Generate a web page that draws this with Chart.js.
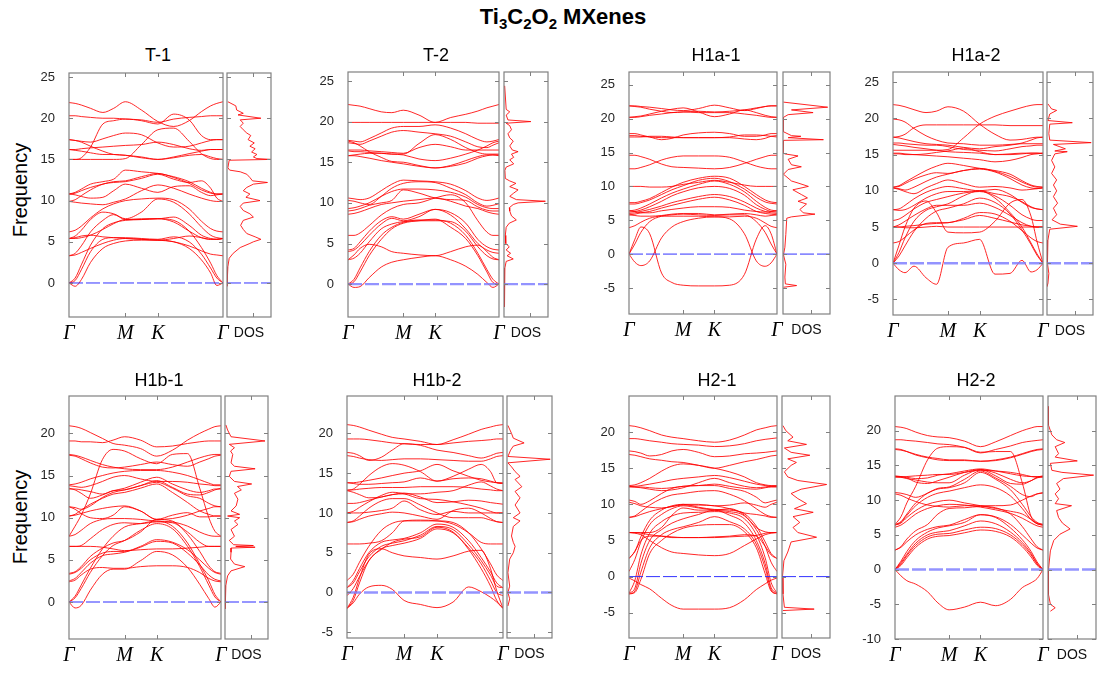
<!DOCTYPE html>
<html>
<head>
<meta charset="utf-8">
<title>Ti3C2O2 MXenes phonon dispersion</title>
<script src="https://cdn.jsdelivr.net/npm/chart.js@4.4.1/dist/chart.umd.min.js"></script>
<style>
  html, body { margin: 0; padding: 0; background: #fff; }
  body { width: 1102px; height: 673px; position: relative; overflow: hidden;
         font-family: 'Liberation Sans', Arial, sans-serif; color: #000; }
  canvas { position: absolute; }
  .main { position: absolute; left: 563px; top: 17px; transform: translate(-50%, -50%);
          font-weight: bold; font-size: 22px; white-space: nowrap; }
  .main sub { font-size: 15px; vertical-align: -5px; line-height: 0; }
  .ptitle { position: absolute; transform: translate(-50%, -50%); font-size: 18px; white-space: nowrap; }
  .ylab { position: absolute; transform: translate(-50%, -50%) rotate(-90deg); font-size: 20px; white-space: nowrap; }
</style>
</head>
<body>
<div class="main">Ti<sub>3</sub>C<sub>2</sub>O<sub>2</sub> MXenes</div>
<div class="ylab" style="left:20px; top:190px;">Frequency</div>
<div class="ylab" style="left:20px; top:517px;">Frequency</div>
<script>
// ---- k-path: Γ → M → K → Γ (fractional path length) ----
const KPATH = [0, 0.04, 0.08, 0.14, 0.22, 0.29, 0.366, 0.47, 0.577, 0.68, 0.78, 0.86, 0.92, 0.96, 1];
const KTICK_POS = [0, 0.366, 0.577, 1];
const KTICK_TXT = ['Γ', 'M', 'K', 'Γ'];
const DOS_MARK = 0.6;
const DOS_LABEL_POS = 0.5;

// ---- phonon branches, one row per branch, sampled on KPATH ----
const bandsT1 = [
  [21.9, 21.8, 21.6, 21.2, 20.7, 21.2, 22.0, 21.0, 19.6, 19.0, 19.7, 20.8, 21.5, 21.8, 22.0],
  [20.3, 20.3, 20.2, 20.1, 20.0, 20.0, 19.9, 19.8, 19.5, 19.9, 20.1, 20.2, 20.3, 20.3, 20.3],
  [15.0, 15.0, 15.2, 16.5, 19.3, 19.7, 19.9, 19.7, 19.3, 20.5, 19.8, 17.9, 17.4, 17.4, 17.4],
  [17.4, 17.3, 17.2, 17.1, 17.5, 17.9, 18.2, 18.0, 17.0, 16.5, 16.6, 17.0, 17.3, 17.4, 17.4],
  [16.2, 16.2, 16.3, 16.4, 16.5, 16.6, 16.7, 16.8, 17.1, 16.8, 16.3, 16.1, 16.2, 16.2, 16.2],
  [16.2, 16.1, 16.0, 15.8, 15.6, 15.6, 15.5, 15.3, 15.0, 15.3, 15.7, 16.0, 16.2, 16.2, 16.2],
  [17.4, 17.3, 17.1, 16.6, 16.0, 15.6, 15.5, 15.2, 15.0, 15.2, 15.5, 15.6, 15.3, 15.1, 15.0],
  [15.0, 15.0, 15.0, 15.0, 15.0, 15.0, 15.1, 16.8, 18.6, 18.8, 17.2, 15.7, 15.1, 15.0, 15.0],
  [10.8, 11.0, 11.4, 12.0, 12.3, 12.6, 13.7, 13.5, 13.3, 12.9, 12.3, 11.5, 11.0, 10.8, 10.8],
  [10.8, 10.9, 11.2, 11.6, 12.0, 12.3, 12.4, 12.9, 13.3, 12.8, 12.1, 11.3, 10.9, 10.8, 10.8],
  [9.9, 10.1, 10.6, 11.3, 12.0, 12.2, 12.3, 12.7, 13.2, 12.6, 12.2, 12.4, 11.5, 10.3, 9.9],
  [10.8, 10.7, 10.5, 10.3, 10.4, 11.2, 12.0, 11.5, 11.0, 11.7, 11.8, 11.0, 10.6, 10.7, 10.8],
  [9.9, 9.8, 9.7, 9.6, 9.5, 9.8, 10.2, 11.2, 11.9, 11.5, 10.8, 10.3, 10.0, 9.9, 9.9],
  [6.2, 6.4, 6.9, 7.9, 9.0, 9.6, 10.0, 10.2, 10.3, 10.1, 9.0, 7.5, 6.6, 6.3, 6.2],
  [5.4, 5.7, 6.4, 7.7, 8.6, 8.4, 7.8, 8.6, 10.2, 9.8, 8.4, 6.8, 5.8, 5.5, 5.4],
  [3.3, 3.6, 4.5, 6.2, 7.6, 8.3, 7.7, 7.8, 7.8, 8.0, 7.0, 5.8, 5.4, 5.3, 5.4],
  [5.4, 5.4, 5.5, 5.8, 6.5, 7.2, 7.7, 7.7, 7.8, 7.4, 6.3, 5.5, 5.3, 5.3, 5.4],
  [5.4, 5.5, 5.7, 5.8, 5.6, 5.5, 5.4, 5.3, 5.2, 5.4, 5.7, 5.5, 5.3, 5.3, 5.4],
  [3.3, 3.4, 3.7, 4.2, 4.8, 5.2, 5.4, 5.3, 5.2, 5.0, 4.5, 3.9, 3.5, 3.4, 3.3],
  [0, -0.4, 0.4, 2.5, 4.2, 4.8, 5.1, 5.2, 5.2, 5.0, 4.2, 2.8, 1.2, -0.3, 0],
  [0, 0.3, 1.6, 3.8, 5.3, 5.5, 5.5, 5.4, 5.3, 5.6, 5.0, 3.5, 1.8, 0.6, 0],
  [0, 0.6, 2.2, 4.6, 6.6, 7.3, 7.6, 7.7, 7.8, 7.6, 6.3, 4.3, 2.4, 0.9, 0]
];

const bandsT2 = [
  [22.1, 22.0, 21.9, 21.6, 21.2, 21.1, 21.4, 20.8, 19.9, 20.5, 20.9, 21.3, 21.7, 21.9, 22.1],
  [19.9, 19.9, 19.9, 19.9, 19.9, 19.9, 19.9, 19.9, 19.9, 19.9, 19.9, 19.8, 19.8, 19.8, 19.8],
  [17.7, 17.6, 17.5, 17.9, 18.6, 19.2, 19.4, 19.4, 19.6, 19.2, 18.5, 17.8, 17.5, 17.6, 17.8],
  [17.4, 17.3, 17.2, 17.6, 18.2, 18.7, 18.9, 18.7, 18.5, 18.2, 17.5, 16.9, 16.8, 17.1, 17.4],
  [16.5, 16.5, 16.5, 16.4, 16.3, 16.2, 16.1, 16.8, 17.2, 16.9, 16.5, 16.5, 16.5, 16.5, 16.5],
  [16.4, 16.3, 16.3, 16.2, 16.1, 16.0, 16.0, 17.3, 18.4, 17.8, 16.8, 16.2, 16.0, 16.0, 16.0],
  [15.8, 15.9, 16.0, 16.1, 16.1, 16.0, 15.9, 15.4, 15.2, 15.5, 16.0, 16.5, 17.0, 17.4, 17.6],
  [17.6, 17.4, 17.0, 16.3, 15.6, 15.1, 15.0, 14.6, 14.3, 14.6, 15.2, 15.7, 15.9, 15.9, 15.8],
  [15.8, 15.8, 15.7, 15.5, 15.2, 15.0, 14.8, 14.5, 14.3, 14.5, 14.9, 15.5, 15.8, 15.9, 15.9],
  [10.6, 10.5, 10.4, 10.6, 11.5, 12.3, 12.8, 12.7, 12.6, 12.3, 11.5, 10.6, 10.3, 10.4, 10.6],
  [10.3, 10.2, 10.0, 9.8, 10.8, 11.8, 12.4, 12.6, 12.5, 11.8, 11.0, 10.0, 9.6, 9.7, 9.9],
  [9.3, 9.4, 9.6, 10.0, 10.8, 11.4, 11.7, 11.7, 11.6, 11.3, 10.7, 9.8, 9.4, 9.3, 9.3],
  [9.0, 9.1, 9.3, 9.7, 10.0, 10.3, 11.6, 11.2, 10.6, 10.4, 10.3, 9.5, 9.1, 9.0, 9.0],
  [8.6, 8.7, 8.9, 9.3, 9.8, 10.0, 10.2, 10.4, 10.6, 10.2, 9.6, 9.3, 8.9, 8.7, 8.6],
  [6.0, 6.0, 6.3, 7.2, 8.5, 9.3, 9.8, 10.0, 10.6, 11.0, 10.0, 7.8, 6.4, 6.0, 6.0],
  [4.2, 4.4, 5.2, 6.5, 7.8, 8.3, 8.0, 8.6, 9.2, 8.8, 7.5, 5.5, 4.6, 4.3, 4.2],
  [4.0, 4.2, 4.8, 6.0, 7.4, 8.1, 7.8, 8.3, 9.2, 8.5, 6.8, 5.0, 4.2, 3.9, 3.8],
  [3.0, 3.2, 3.8, 5.2, 6.8, 7.4, 7.7, 7.8, 7.8, 7.7, 6.5, 4.6, 3.5, 3.1, 3.0],
  [3.0, 3.6, 4.4, 4.9, 4.6, 4.0, 3.8, 3.6, 3.5, 4.0, 4.6, 4.8, 4.0, 3.3, 3.0],
  [0, 0.6, 2.0, 4.0, 6.0, 7.0, 7.6, 7.9, 7.9, 7.5, 6.0, 3.8, 1.8, 0.6, 0],
  [0, 0.3, 1.5, 3.5, 5.5, 6.8, 7.5, 7.8, 8.0, 7.0, 5.6, 3.5, 1.5, 0.2, 0],
  [0, -0.4, -0.3, 0.8, 2.1, 2.7, 3.0, 3.3, 3.5, 3.0, 2.2, 1.2, 0.2, -0.4, 0]
];

const bandsH1a1 = [
  [21.9, 21.9, 21.8, 21.7, 21.5, 21.3, 21.2, 21.5, 22.0, 21.6, 21.2, 21.5, 21.8, 21.9, 21.9],
  [21.9, 21.8, 21.7, 21.4, 21.1, 20.9, 21.0, 21.1, 21.0, 21.1, 21.3, 21.6, 21.8, 21.9, 21.9],
  [20.2, 20.3, 20.4, 20.7, 21.1, 21.4, 21.6, 21.0, 20.3, 20.7, 21.3, 20.9, 20.5, 20.3, 20.2],
  [20.2, 20.2, 20.3, 20.5, 20.7, 20.9, 21.0, 20.9, 20.9, 20.9, 20.7, 20.5, 20.3, 20.2, 20.2],
  [17.8, 17.8, 17.6, 17.3, 16.9, 17.1, 17.6, 17.9, 18.0, 17.8, 17.4, 17.4, 17.6, 17.8, 17.8],
  [17.5, 17.5, 17.4, 17.3, 17.2, 17.2, 17.2, 17.2, 17.2, 17.2, 17.0, 16.9, 17.1, 17.4, 17.5],
  [17.3, 17.3, 17.3, 17.4, 17.4, 17.3, 17.2, 17.2, 17.2, 17.3, 17.6, 17.6, 17.5, 17.4, 17.3],
  [14.6, 14.6, 14.4, 14.0, 13.3, 12.9, 12.8, 12.7, 12.6, 12.8, 13.4, 14.0, 14.4, 14.6, 14.6],
  [12.6, 12.6, 12.8, 13.2, 13.9, 14.3, 14.5, 14.5, 14.5, 14.3, 13.6, 13.0, 12.7, 12.6, 12.6],
  [10.0, 10.0, 10.0, 9.9, 9.9, 10.0, 10.3, 10.6, 10.9, 10.6, 10.2, 10.0, 10.0, 10.0, 10.0],
  [7.6, 7.6, 7.8, 8.2, 9.1, 9.9, 10.6, 11.2, 11.5, 11.2, 10.0, 8.8, 8.0, 7.7, 7.6],
  [7.4, 7.4, 7.6, 8.0, 8.8, 9.5, 10.1, 10.9, 11.2, 10.7, 9.6, 8.4, 7.7, 7.5, 7.4],
  [6.4, 6.5, 6.8, 7.4, 8.3, 9.0, 9.6, 10.3, 10.8, 10.3, 9.2, 7.8, 6.9, 6.5, 6.4],
  [6.2, 6.3, 6.5, 7.0, 7.8, 8.6, 9.2, 9.8, 10.0, 9.7, 8.7, 7.3, 6.6, 6.3, 6.2],
  [6.0, 6.1, 6.3, 6.6, 7.1, 7.6, 8.0, 8.5, 8.8, 8.5, 7.7, 6.8, 6.3, 6.1, 6.0],
  [5.8, 5.9, 6.1, 6.3, 6.8, 7.2, 7.6, 8.1, 8.4, 8.0, 7.2, 6.3, 6.0, 5.9, 5.8],
  [6.4, 6.3, 6.1, 6.1, 6.4, 6.6, 6.8, 7.0, 7.0, 6.9, 6.5, 6.3, 6.2, 6.3, 6.4],
  [5.8, 5.7, 5.6, 5.6, 5.7, 5.9, 6.0, 6.0, 5.8, 5.9, 6.0, 5.8, 5.6, 5.7, 5.8],
  [3.9, 4.2, 4.7, 5.3, 5.6, 5.6, 5.6, 5.6, 5.5, 5.5, 5.6, 5.3, 4.6, 4.1, 3.9],
  [0, 1.5, 3.2, 4.8, 5.6, 5.8, 5.9, 5.8, 5.7, 5.8, 5.8, 4.8, 3.2, 1.5, 0],
  [0, 2.2, 4.0, 3.0, -2.8, -4.2, -4.6, -4.7, -4.7, -4.6, -3.0, 2.2, 4.2, 3.0, 0],
  [0, -1.2, -1.7, -1.0, 2.4, 4.0, 4.8, 5.3, 5.5, 5.2, 3.0, -1.0, -1.8, -1.3, 0]
];

const bandsH1a2 = [
  [21.9, 21.8, 21.6, 21.2, 20.8, 21.0, 21.6, 21.0, 19.2, 17.8, 17.0, 17.1, 17.3, 17.4, 17.4],
  [15.6, 15.6, 15.6, 15.6, 15.6, 15.6, 15.7, 17.3, 19.2, 20.3, 21.0, 21.5, 21.8, 21.9, 21.9],
  [19.9, 19.8, 19.5, 18.6, 17.6, 17.0, 16.6, 16.5, 16.3, 16.3, 16.4, 16.5, 16.5, 16.5, 16.5],
  [17.4, 17.5, 17.8, 18.7, 19.1, 19.1, 19.1, 19.1, 19.1, 19.1, 19.0, 19.0, 19.0, 19.0, 19.0],
  [17.4, 17.3, 17.1, 16.8, 16.5, 16.4, 16.3, 16.0, 15.8, 16.1, 16.3, 16.6, 17.0, 17.3, 17.4],
  [16.6, 16.6, 16.5, 16.4, 16.3, 16.3, 16.1, 15.7, 15.6, 15.5, 15.8, 16.1, 16.2, 16.3, 16.3],
  [16.4, 16.3, 16.2, 16.0, 15.8, 15.6, 15.4, 15.3, 15.2, 15.0, 15.0, 15.1, 15.2, 15.2, 15.2],
  [15.2, 15.2, 15.1, 15.0, 14.9, 14.8, 14.7, 14.5, 14.3, 14.0, 14.2, 14.6, 15.0, 15.1, 15.2],
  [15.1, 15.1, 15.0, 15.0, 15.1, 15.3, 15.5, 15.9, 15.4, 15.0, 15.1, 15.2, 15.2, 15.2, 15.1],
  [10.5, 10.7, 11.2, 11.9, 12.8, 13.4, 13.8, 13.5, 13.1, 12.8, 12.3, 11.4, 10.8, 10.6, 10.5],
  [10.5, 10.6, 11.0, 11.6, 12.2, 12.5, 12.4, 12.8, 13.1, 12.7, 12.0, 11.2, 10.7, 10.5, 10.5],
  [10.4, 10.3, 10.1, 10.5, 11.3, 11.9, 12.3, 12.8, 13.0, 12.6, 11.7, 10.8, 10.4, 10.3, 10.4],
  [10.4, 10.2, 9.9, 9.6, 10.4, 11.0, 11.5, 11.0, 10.5, 10.6, 10.4, 10.1, 10.2, 10.3, 10.4],
  [7.4, 7.5, 8.0, 8.9, 9.8, 10.3, 10.6, 10.3, 10.0, 10.2, 9.5, 8.4, 7.7, 7.5, 7.4],
  [7.4, 7.3, 7.4, 8.0, 9.0, 9.6, 9.9, 9.9, 10.0, 9.6, 9.2, 8.5, 7.8, 7.5, 7.4],
  [5.9, 6.1, 6.6, 7.5, 8.4, 8.8, 9.2, 9.7, 9.9, 9.3, 8.0, 6.7, 6.1, 5.9, 5.9],
  [5.0, 5.3, 5.8, 6.6, 7.5, 8.0, 8.0, 8.0, 8.3, 7.7, 6.6, 5.6, 5.1, 5.0, 5.0],
  [5.0, 5.0, 5.1, 5.2, 5.4, 5.5, 5.6, 6.0, 6.6, 6.2, 5.7, 5.3, 5.1, 5.0, 5.0],
  [5.0, 5.0, 4.9, 4.9, 5.0, 5.1, 5.0, 5.0, 5.0, 5.0, 5.0, 5.0, 5.0, 5.0, 5.0],
  [2.8, 3.0, 3.6, 4.6, 5.5, 5.6, 5.6, 6.2, 7.0, 6.8, 5.8, 4.5, 3.5, 3.0, 2.8],
  [0, 2.5, 5.0, 7.6, 8.6, 7.0, 4.3, 4.2, 4.3, 5.8, 8.3, 8.8, 6.5, 3.0, 0],
  [0, 1.5, 3.5, 5.8, 7.3, 7.8, 8.2, 9.3, 10.0, 9.0, 7.0, 5.0, 2.8, 1.3, 0],
  [0, -0.9, -1.3, -0.4, -2.0, -2.9, 2.2, 2.8, 3.3, -1.5, -1.4, 0.4, -1.2, -0.9, 0],
  [0, 1.0, 2.4, 4.4, 6.2, 7.2, 7.6, 8.2, 9.0, 8.4, 6.8, 4.6, 2.6, 1.1, 0]
];

const bandsH1b1 = [
  [20.9, 20.8, 20.6, 20.1, 19.4, 18.8, 18.6, 18.2, 17.3, 18.0, 19.2, 20.0, 20.5, 20.8, 20.9],
  [19.1, 19.1, 19.0, 19.0, 18.9, 19.2, 19.6, 19.2, 18.4, 18.5, 18.8, 19.0, 19.1, 19.1, 19.1],
  [7.8, 9.0, 10.3, 12.8, 16.9, 18.1, 17.9, 17.0, 16.4, 17.5, 17.6, 13.5, 10.0, 8.4, 7.8],
  [17.5, 17.4, 17.2, 16.8, 16.3, 16.0, 15.8, 15.7, 15.7, 16.0, 16.6, 17.1, 17.4, 17.5, 17.5],
  [17.4, 17.3, 17.0, 16.5, 16.0, 15.9, 16.0, 16.3, 16.6, 16.3, 16.1, 16.6, 17.0, 17.3, 17.4],
  [13.9, 14.0, 14.2, 14.6, 15.0, 15.3, 15.5, 15.6, 15.6, 15.4, 15.0, 14.5, 14.1, 13.9, 13.9],
  [13.8, 13.7, 13.6, 13.8, 14.3, 14.8, 15.0, 14.6, 14.3, 14.3, 14.2, 14.0, 13.9, 13.8, 13.8],
  [13.4, 13.4, 13.3, 13.1, 12.8, 13.2, 13.5, 14.2, 14.8, 14.0, 13.3, 13.0, 13.2, 13.4, 13.4],
  [13.5, 13.3, 12.9, 12.3, 12.7, 13.2, 13.3, 13.8, 14.4, 13.6, 12.8, 12.7, 13.0, 13.3, 13.5],
  [11.3, 11.2, 11.0, 11.4, 12.4, 13.0, 13.3, 13.8, 14.2, 13.5, 12.6, 12.3, 11.7, 11.4, 11.3],
  [10.2, 10.4, 10.9, 11.6, 12.3, 12.8, 13.0, 13.5, 14.0, 13.0, 11.8, 10.8, 10.4, 10.2, 10.2],
  [10.2, 10.3, 10.5, 10.8, 11.1, 11.3, 11.4, 10.8, 9.8, 9.9, 10.3, 10.8, 11.1, 11.3, 11.3],
  [11.3, 11.0, 10.5, 10.0, 9.9, 10.3, 11.3, 10.8, 9.8, 10.3, 10.6, 10.1, 10.1, 10.2, 10.2],
  [7.8, 8.0, 8.5, 9.3, 9.8, 9.9, 9.9, 9.8, 9.6, 9.5, 9.0, 8.3, 7.9, 7.8, 7.8],
  [6.6, 6.6, 6.7, 7.5, 8.6, 9.2, 9.4, 9.3, 9.5, 9.4, 8.3, 7.1, 6.6, 6.6, 6.6],
  [6.6, 6.6, 6.6, 6.6, 6.5, 6.3, 6.1, 6.2, 6.3, 6.3, 6.4, 6.5, 6.6, 6.6, 6.6],
  [3.4, 3.6, 4.2, 5.4, 6.4, 7.0, 7.3, 8.3, 9.8, 9.6, 8.0, 6.0, 4.3, 3.6, 3.4],
  [3.3, 3.5, 4.0, 5.0, 5.8, 6.0, 6.0, 6.6, 7.4, 7.1, 6.2, 5.0, 4.0, 3.5, 3.3],
  [2.5, 2.8, 3.5, 4.6, 5.5, 5.7, 5.9, 6.5, 7.2, 7.0, 5.8, 4.4, 3.2, 2.7, 2.5],
  [2.4, 2.6, 3.2, 3.9, 4.1, 4.0, 4.0, 4.2, 4.3, 4.3, 4.1, 3.5, 2.8, 2.5, 2.4],
  [0, -0.7, -0.4, 1.4, 3.3, 3.9, 3.9, 4.9, 6.0, 5.6, 4.1, 2.1, 0.4, -0.6, 0],
  [0, 0.7, 2.0, 4.0, 6.3, 7.8, 8.9, 9.3, 9.6, 9.0, 7.0, 4.5, 2.5, 0.9, 0],
  [0, 0.5, 1.6, 3.5, 5.5, 6.7, 7.3, 8.5, 9.3, 8.7, 6.6, 4.2, 2.0, 0.6, 0]
];

const bandsH1b2 = [
  [21.1, 21.0, 20.8, 20.4, 19.9, 19.5, 19.3, 19.0, 18.6, 19.2, 19.9, 20.5, 20.8, 21.0, 21.1],
  [19.3, 19.3, 19.3, 19.2, 19.0, 18.8, 18.7, 18.6, 18.6, 18.8, 19.0, 19.1, 19.2, 19.3, 19.3],
  [17.6, 17.5, 17.2, 16.6, 17.0, 17.9, 18.7, 18.5, 17.9, 17.6, 17.2, 16.9, 17.2, 17.5, 17.6],
  [17.2, 17.1, 16.9, 16.7, 16.6, 16.7, 16.8, 16.8, 16.7, 16.6, 16.5, 16.5, 16.8, 17.1, 17.2],
  [12.8, 13.0, 13.6, 14.7, 15.8, 16.2, 16.0, 15.2, 14.0, 14.6, 15.5, 16.1, 15.2, 13.8, 13.7],
  [13.8, 13.8, 13.9, 14.1, 14.4, 14.7, 15.0, 15.3, 16.1, 15.3, 14.6, 14.1, 13.9, 13.8, 13.8],
  [13.8, 13.7, 13.6, 13.6, 13.7, 13.8, 13.9, 14.4, 14.0, 14.3, 14.4, 14.3, 14.0, 13.8, 13.7],
  [12.9, 12.9, 13.0, 13.1, 13.2, 13.2, 13.2, 13.3, 13.3, 13.3, 13.2, 13.0, 12.9, 12.8, 12.8],
  [12.8, 12.6, 12.3, 11.9, 12.0, 12.3, 12.4, 12.4, 12.6, 12.8, 13.5, 13.9, 13.4, 13.0, 12.8],
  [11.2, 11.2, 11.3, 11.6, 12.0, 12.3, 12.5, 12.0, 11.3, 11.4, 11.6, 11.5, 11.3, 11.2, 11.1],
  [10.0, 10.2, 10.7, 11.4, 12.2, 12.6, 12.4, 11.8, 11.7, 11.4, 11.0, 10.6, 10.2, 10.0, 10.0],
  [10.0, 10.0, 10.0, 10.1, 10.3, 10.6, 11.5, 10.4, 9.8, 10.2, 10.0, 10.0, 10.0, 10.0, 10.0],
  [8.8, 9.0, 9.6, 10.6, 11.5, 11.8, 11.8, 11.0, 10.0, 9.4, 9.4, 9.4, 9.1, 8.9, 8.8],
  [8.8, 8.9, 9.2, 9.6, 9.9, 10.1, 10.0, 9.6, 9.2, 10.3, 10.6, 10.0, 9.3, 8.9, 8.8],
  [6.1, 6.1, 6.1, 6.2, 6.5, 7.5, 9.0, 9.1, 9.0, 8.6, 7.5, 6.3, 6.1, 6.1, 6.1],
  [1.5, 2.3, 3.8, 5.8, 7.8, 8.7, 9.0, 9.0, 9.0, 8.8, 7.5, 5.5, 3.6, 2.2, 1.5],
  [0.6, 1.5, 3.0, 5.0, 6.3, 6.6, 6.8, 7.5, 8.6, 8.2, 6.5, 4.4, 2.6, 1.2, 0.6],
  [0.6, 1.2, 2.6, 4.5, 5.8, 6.2, 6.5, 7.2, 8.3, 7.9, 6.0, 4.0, 2.2, 0.8, 0.6],
  [-0.4, 0.5, 2.0, 4.0, 5.5, 5.9, 6.2, 6.8, 8.0, 7.5, 5.6, 3.6, 1.5, 0.0, -0.4],
  [-2.0, -0.6, 1.8, 4.8, 5.5, 5.0, 4.6, 4.4, 4.2, 4.6, 5.2, 5.3, 3.0, 0.2, -2.0],
  [-2.0, -1.0, 1.2, 4.0, 5.4, 6.3, 6.7, 7.0, 8.2, 7.6, 5.4, 3.0, 0.8, -1.0, -2.0],
  [-2.0, -1.3, -0.2, 0.7, 0.9, 0.4, -1.0, -1.5, -1.9, -1.2, 0.7, 0.1, -0.6, -1.2, -2.0]
];

const bandsH21 = [
  [20.9, 20.8, 20.6, 20.2, 19.6, 19.3, 19.1, 18.8, 18.6, 18.9, 19.6, 20.3, 20.6, 20.8, 20.9],
  [19.1, 19.1, 19.0, 18.8, 18.6, 18.4, 18.3, 18.2, 18.0, 18.1, 18.4, 18.8, 19.0, 19.1, 19.2],
  [17.4, 17.3, 17.1, 16.7, 16.9, 17.4, 17.6, 17.2, 16.6, 16.7, 17.0, 17.1, 17.2, 17.3, 17.4],
  [16.9, 16.8, 16.6, 16.3, 16.1, 15.9, 15.8, 15.4, 15.0, 15.4, 15.9, 16.2, 16.5, 16.7, 16.8],
  [12.6, 12.7, 13.0, 13.6, 14.6, 15.3, 15.6, 15.4, 15.0, 14.5, 13.8, 13.0, 12.7, 12.6, 12.6],
  [12.5, 12.5, 12.6, 12.8, 13.1, 13.4, 13.6, 13.8, 14.0, 13.7, 13.2, 12.8, 12.6, 12.5, 12.5],
  [12.5, 12.4, 12.3, 12.1, 11.9, 12.0, 12.3, 13.0, 13.6, 13.0, 12.5, 12.3, 12.4, 12.5, 12.5],
  [12.4, 12.4, 12.4, 12.3, 12.2, 12.3, 12.5, 12.6, 12.8, 12.5, 12.2, 12.1, 12.3, 12.4, 12.4],
  [10.6, 10.4, 10.0, 10.5, 11.5, 12.2, 12.5, 12.6, 12.6, 12.2, 11.8, 11.0, 10.2, 10.4, 10.6],
  [8.2, 8.4, 9.0, 9.9, 10.8, 11.3, 11.5, 11.8, 11.9, 11.4, 10.5, 9.4, 8.6, 8.3, 8.2],
  [10.3, 10.1, 9.8, 9.6, 9.5, 9.7, 10.0, 10.0, 9.8, 9.9, 10.2, 9.9, 9.6, 10.0, 10.3],
  [8.2, 8.3, 8.6, 9.0, 9.4, 9.7, 9.9, 9.9, 9.8, 9.4, 8.8, 8.6, 8.4, 8.2, 8.2],
  [6.1, 6.1, 6.1, 6.1, 6.8, 8.5, 9.5, 9.2, 9.2, 9.4, 8.5, 6.8, 6.2, 6.1, 6.1],
  [2.5, 3.5, 5.5, 7.8, 9.2, 9.8, 10.0, 9.6, 9.3, 9.2, 8.7, 7.0, 4.8, 3.2, 2.5],
  [0.7, 2.4, 4.8, 7.2, 8.6, 9.4, 9.8, 9.5, 9.2, 9.0, 8.4, 6.5, 4.2, 2.0, 0.7],
  [-2.3, -0.5, 3.0, 6.0, 7.6, 8.4, 8.8, 8.9, 9.0, 8.8, 8.0, 5.8, 2.6, -0.8, -2.3],
  [-2.3, -1.6, 1.8, 5.0, 6.5, 7.4, 8.0, 8.6, 9.2, 8.5, 7.4, 5.0, 1.8, -1.5, -2.3],
  [-2.4, -2.0, 0.6, 4.0, 5.8, 6.5, 6.9, 7.5, 8.3, 7.6, 6.6, 4.5, 1.2, -1.8, -2.4],
  [-2.4, -2.2, -0.4, 3.2, 5.0, 6.0, 6.7, 7.1, 7.2, 7.2, 6.2, 4.0, 0.4, -2.0, -2.4],
  [6.1, 6.1, 6.0, 5.8, 5.6, 5.4, 5.4, 5.4, 5.4, 5.5, 5.6, 5.7, 6.0, 6.1, 6.1],
  [2.5, 3.5, 5.0, 5.6, 5.6, 5.5, 5.4, 5.4, 5.5, 5.6, 5.8, 5.6, 4.2, 3.0, 2.5],
  [6.1, 6.0, 5.8, 5.0, 4.0, 3.4, 3.2, 3.0, 2.9, 3.2, 4.3, 5.2, 5.8, 6.0, 6.1],
  [-0.2, -0.6, -1.1, -1.7, -3.0, -4.0, -4.5, -4.5, -4.5, -4.3, -3.2, -1.8, -1.0, -0.5, -0.2]
];

const bandsH22 = [
  [20.6, 20.5, 20.3, 19.8, 19.3, 19.1, 19.0, 18.5, 17.7, 18.4, 19.3, 20.0, 20.4, 20.6, 20.6],
  [18.7, 18.7, 18.6, 18.5, 18.3, 18.1, 18.0, 17.6, 16.8, 17.3, 17.8, 18.3, 18.5, 18.6, 18.7],
  [17.3, 17.2, 17.0, 16.6, 16.2, 16.0, 15.8, 15.8, 15.6, 15.7, 16.1, 16.6, 17.0, 17.2, 17.3],
  [17.4, 17.3, 17.0, 16.5, 16.1, 15.8, 15.7, 15.7, 15.6, 15.8, 16.2, 16.7, 17.1, 17.3, 17.4],
  [6.5, 7.6, 9.6, 12.0, 15.8, 17.5, 17.7, 17.6, 16.9, 17.0, 17.0, 12.5, 7.6, 6.7, 6.5],
  [13.4, 13.4, 13.3, 13.1, 13.2, 13.6, 13.8, 14.2, 14.5, 14.2, 13.8, 13.5, 13.4, 13.4, 13.4],
  [13.5, 13.4, 13.2, 12.6, 12.4, 12.8, 13.3, 14.0, 14.4, 13.9, 13.0, 12.5, 12.8, 13.3, 13.5],
  [13.3, 13.3, 13.4, 13.5, 13.6, 13.7, 13.7, 14.0, 14.3, 14.2, 14.0, 13.7, 13.4, 13.3, 13.3],
  [13.4, 13.3, 13.1, 12.9, 12.6, 12.5, 12.5, 13.6, 14.4, 13.5, 12.4, 12.3, 12.8, 13.2, 13.4],
  [11.1, 11.0, 10.8, 10.4, 11.0, 11.7, 11.9, 13.0, 14.2, 13.2, 12.0, 10.8, 10.5, 10.9, 11.1],
  [6.5, 6.9, 8.0, 9.6, 11.0, 11.6, 11.8, 12.5, 14.0, 13.0, 11.5, 9.4, 7.6, 6.8, 6.5],
  [6.4, 6.8, 7.8, 9.2, 10.4, 11.0, 11.3, 11.8, 12.2, 11.8, 10.6, 8.8, 7.2, 6.6, 6.4],
  [10.9, 10.7, 10.3, 9.8, 9.3, 9.1, 9.0, 9.2, 9.2, 9.2, 9.3, 10.0, 10.6, 10.9, 11.0],
  [6.4, 6.7, 7.5, 8.5, 9.4, 9.8, 10.0, 9.6, 9.2, 8.8, 8.4, 8.0, 7.2, 6.6, 6.4],
  [6.1, 6.4, 7.0, 8.0, 8.8, 9.2, 9.4, 9.3, 9.0, 8.6, 8.1, 7.4, 6.7, 6.3, 6.1],
  [2.8, 3.3, 4.4, 5.6, 6.5, 8.0, 8.8, 8.9, 9.1, 8.9, 8.0, 6.2, 4.4, 3.3, 2.8],
  [2.8, 3.2, 4.0, 5.0, 5.8, 6.2, 6.4, 7.2, 7.9, 7.6, 6.5, 5.0, 3.8, 3.1, 2.8],
  [0, 1.2, 2.6, 4.2, 5.4, 6.0, 6.3, 6.8, 7.9, 7.5, 6.0, 4.3, 2.6, 1.1, 0],
  [0, 1.0, 2.2, 3.8, 5.0, 5.4, 5.6, 6.3, 7.0, 6.6, 5.4, 3.9, 2.3, 0.9, 0],
  [0, 0.8, 2.0, 3.5, 4.7, 5.1, 5.2, 5.7, 6.1, 5.9, 5.0, 3.6, 2.1, 0.8, 0],
  [0, 0.6, 1.7, 3.2, 4.4, 4.8, 4.9, 5.3, 5.7, 5.5, 4.7, 3.3, 1.8, 0.6, 0],
  [0, -0.9, -1.6, -2.1, -3.2, -4.8, -5.8, -5.4, -4.7, -5.2, -4.3, -2.6, -1.9, -1.3, 0]
];

// ---- phonon density of states: frequency and DOS (relative) ----
const dosT1Freq = [22, 21.5, 21.0, 20.6, 20.4, 20.0, 19.8, 19.4, 19.0, 18.6, 18.2, 17.9, 17.4, 17.0, 16.6, 16.3, 15.9, 15.6, 15.3, 15.1, 15.0, 14.9, 14.0, 13.7, 13.5, 13.2, 12.8, 12.4, 12.2, 12.0, 11.6, 11.2, 10.8, 10.4, 10.0, 9.7, 9.3, 8.8, 8.4, 8.0, 7.6, 7.0, 6.5, 6.0, 5.6, 5.3, 5.0, 4.8, 4.3, 3.6, 3.0, 2.0, 0.5, -0.4];
const dosT1Val  = [0.02, 0.2, 0.22, 0.37, 0.25, 0.77, 0.3, 0.37, 0.3, 0.37, 0.45, 0.54, 0.48, 0.62, 0.52, 0.64, 0.56, 0.68, 0.6, 0.68, 1.0, 0.05, 0.02, 0.06, 0.3, 0.45, 0.52, 0.58, 0.92, 0.6, 0.45, 0.37, 0.52, 0.43, 0.75, 0.37, 0.3, 0.37, 0.52, 0.6, 0.37, 0.31, 0.37, 0.45, 0.64, 0.77, 0.6, 0.52, 0.3, 0.14, 0.05, 0.02, 0.0, 0.0];

const dosT2Freq = [24.4, 21.5, 21.2, 20.8, 20.2, 20.0, 19.8, 19.5, 19.0, 18.5, 18.0, 17.6, 17.0, 16.5, 16.3, 16.0, 15.6, 15.3, 14.8, 14.4, 14.0, 13.0, 12.7, 12.4, 12.0, 11.6, 11.2, 10.8, 10.4, 10.2, 10.0, 9.8, 9.4, 9.0, 8.4, 7.9, 7.5, 7.0, 6.0, 5.0, 4.6, 4.2, 3.8, 3.5, 3.1, 2.8, 2.0, 0.2, -0.4, -2.8];
const dosT2Val  = [0.015, 0.05, 0.13, 0.05, 0.09, 0.61, 0.05, 0.13, 0.17, 0.09, 0.13, 0.21, 0.13, 0.19, 0.32, 0.17, 0.22, 0.13, 0.22, 0.05, 0.02, 0.03, 0.13, 0.27, 0.13, 0.32, 0.22, 0.13, 0.28, 0.94, 0.32, 0.21, 0.12, 0.13, 0.17, 0.28, 0.12, 0.05, 0.03, 0.04, 0.12, 0.05, 0.15, 0.07, 0.21, 0.05, 0.02, 0.01, 0.015, 0.01];

const dosH1a1Freq = [22.45, 21.7, 21.3, 20.9, 20.6, 20.2, 20.0, 18.2, 18.1, 17.5, 17.4, 17.2, 16.9, 16.8, 15.0, 14.8, 14.5, 14.0, 13.2, 12.9, 12.5, 11.8, 10.8, 10.5, 10.0, 9.5, 8.8, 8.3, 7.8, 7.4, 6.6, 6.1, 5.9, 5.5, 5.3, 2.9, 1.0, -0.1, -1.5, -3.4, -4.4, -4.65, -4.9];
const dosH1a1Val  = [0.01, 0.95, 0.18, 0.64, 0.11, 0.01, 0.0, 0.0, 0.01, 0.18, 0.38, 0.11, 0.86, 0.01, 0.0, 0.04, 0.32, 0.11, 0.18, 0.39, 0.11, 0.01, 0.18, 0.32, 0.54, 0.21, 0.39, 0.52, 0.32, 0.5, 0.36, 0.43, 0.68, 0.18, 0.08, 0.06, 0.04, 0.01, 0.06, 0.04, 0.05, 0.29, 0.01];

const dosH1a2Freq = [22.0, 21.3, 21.1, 20.6, 19.7, 19.4, 19.2, 17.9, 17.0, 16.65, 16.4, 15.8, 15.5, 15.4, 15.1, 14.2, 13.3, 12.4, 11.5, 10.8, 10.0, 9.2, 8.3, 7.6, 6.7, 6.0, 5.4, 5.1, 4.7, 3.2, 0.0, -1.4, -2.8, -3.2];
const dosH1a2Val  = [0.02, 0.1, 0.21, 0.06, 0.02, 0.55, 0.06, 0.04, 0.06, 0.96, 0.14, 0.4, 0.17, 0.44, 0.17, 0.1, 0.17, 0.1, 0.21, 0.14, 0.21, 0.14, 0.23, 0.14, 0.21, 0.11, 0.29, 0.66, 0.06, 0.02, 0.01, 0.04, 0.02, 0.0];

const dosH1b1Freq = [21.0, 20.4, 19.6, 19.1, 18.7, 18.3, 17.9, 17.5, 16.5, 16.1, 15.8, 15.5, 14.9, 14.3, 14.0, 13.7, 13.3, 12.9, 12.2, 11.4, 10.8, 10.4, 10.2, 10.0, 9.6, 9.2, 8.6, 7.8, 7.3, 6.8, 6.7, 6.6, 6.5, 6.4, 5.9, 5.1, 4.5, 4.2, 3.7, 3.1, 2.0, 0.0, -0.8];
const dosH1b1Val  = [0.02, 0.06, 0.14, 0.93, 0.1, 0.22, 0.13, 0.18, 0.14, 0.22, 0.7, 0.14, 0.1, 0.22, 0.62, 0.29, 0.38, 0.22, 0.3, 0.26, 0.14, 0.34, 0.06, 0.34, 0.22, 0.3, 0.14, 0.22, 0.1, 0.2, 0.66, 0.25, 0.7, 0.14, 0.14, 0.13, 0.22, 0.46, 0.14, 0.06, 0.02, 0.01, 0.0];

const dosH1b2Freq = [21.0, 20.0, 19.4, 18.8, 18.4, 17.9, 17.1, 16.75, 16.3, 15.8, 15.2, 14.6, 14.2, 13.3, 12.7, 11.9, 11.0, 10.0, 9.4, 9.0, 8.3, 7.1, 6.3, 5.8, 5.0, 4.2, 2.5, 0.8, 0.0, -0.8, -1.7];
const dosH1b2Val  = [0.02, 0.1, 0.14, 0.38, 0.14, 0.08, 0.02, 0.96, 0.02, 0.1, 0.18, 0.29, 0.18, 0.33, 0.18, 0.29, 0.18, 0.29, 0.14, 0.29, 0.14, 0.1, 0.14, 0.18, 0.14, 0.06, 0.02, 0.06, 0.02, 0.06, 0.02];

const dosH21Freq = [20.9, 20.2, 19.3, 18.8, 18.3, 17.8, 17.2, 16.8, 16.3, 15.8, 15.4, 14.5, 13.8, 13.3, 12.75, 12.1, 11.5, 10.8, 10.1, 9.4, 8.9, 8.3, 7.5, 6.8, 6.1, 5.45, 4.8, 3.4, 2.2, 0.0, -2.4, -4.25, -4.5, -4.7];
const dosH21Val  = [0.02, 0.08, 0.23, 0.12, 0.51, 0.05, 0.19, 0.58, 0.12, 0.3, 0.19, 0.05, 0.12, 0.33, 0.93, 0.4, 0.19, 0.33, 0.51, 0.26, 0.65, 0.23, 0.37, 0.23, 0.33, 0.72, 0.19, 0.12, 0.04, 0.01, 0.02, 0.05, 0.67, 0.02];

const dosH22Freq = [23.5, 20.8, 19.4, 18.7, 18.3, 17.7, 16.7, 16.2, 15.65, 15.3, 14.3, 14.0, 13.6, 13.1, 12.4, 11.6, 10.9, 10.2, 9.5, 9.2, 8.5, 7.5, 6.7, 5.85, 5.1, 4.2, 2.7, 0.0, -3.6, -5.0, -5.5, -6.0];
const dosH22Val  = [0.0, 0.01, 0.08, 0.18, 0.35, 0.15, 0.22, 0.15, 0.61, 0.05, 0.08, 0.29, 0.95, 0.32, 0.18, 0.25, 0.15, 0.22, 0.15, 0.49, 0.18, 0.22, 0.3, 0.46, 0.25, 0.12, 0.05, 0.01, 0.01, 0.05, 0.15, 0.05];

// ---- frequency axis ticks ----
const yTicksA = [0, 5, 10, 15, 20, 25];
const yTicksB = [-5, 0, 5, 10, 15, 20, 25];
const yTicksC = [0, 5, 10, 15, 20];
const yTicksD = [-5, 0, 5, 10, 15, 20];
const yTicksE = [-10, -5, 0, 5, 10, 15, 20];

// ---- panel layout (band box [left, right, top, bottom], DOS box [left, right]) ----
const PANELS = [
  { name: 'T-1',   bands: bandsT1,   dosF: dosT1Freq,   dosV: dosT1Val,   yMin: -4.13, yMax: 25.49, yTicks: yTicksA, box: [69, 223, 73, 317],   dos: [227, 271],   tx: 158, ty: 55,  zero: 'thin' },
  { name: 'T-2',   bands: bandsT2,   dosF: dosT2Freq,   dosV: dosT2Val,   yMin: -4.04, yMax: 26.1,  yTicks: yTicksA, box: [348, 499, 72, 317],  dos: [504, 548],   tx: 436, ty: 55,  zero: 'thick' },
  { name: 'H1a-1', bands: bandsH1a1, dosF: dosH1a1Freq, dosV: dosH1a1Val, yMin: -8.85, yMax: 26.9,  yTicks: yTicksB, box: [629, 777, 72, 314],  dos: [783, 830],   tx: 716, ty: 55,  zero: 'thin' },
  { name: 'H1a-2', bands: bandsH1a2, dosF: dosH1a2Freq, dosV: dosH1a2Val, yMin: -7.14, yMax: 26.4,  yTicks: yTicksB, box: [893, 1043, 72, 315], dos: [1047, 1093], tx: 976, ty: 55,  zero: 'thick' },
  { name: 'H1b-1', bands: bandsH1b1, dosF: dosH1b1Freq, dosV: dosH1b1Val, yMin: -4.38, yMax: 24.43, yTicks: yTicksC, box: [69, 221, 396, 639],  dos: [225, 268],   tx: 159, ty: 380, zero: 'mid' },
  { name: 'H1b-2', bands: bandsH1b2, dosF: dosH1b2Freq, dosV: dosH1b2Val, yMin: -5.72, yMax: 24.7,  yTicks: yTicksD, box: [347, 503, 396, 638], dos: [507, 552],   tx: 437, ty: 380, zero: 'thick' },
  { name: 'H2-1',  bands: bandsH21,  dosF: dosH21Freq,  dosV: dosH21Val,  yMin: -8.5,  yMax: 25.0,  yTicks: yTicksD, box: [629, 777, 396, 638], dos: [782, 830],   tx: 717, ty: 380, zero: 'thin' },
  { name: 'H2-2',  bands: bandsH22,  dosF: dosH22Freq,  dosV: dosH22Val,  yMin: -10,   yMax: 25.0,  yTicks: yTicksE, box: [895, 1043, 396, 639], dos: [1048, 1096], tx: 976, ty: 380, zero: 'thick' }
];

// ---- styles ----
const BAND_COLOR = 'rgba(255, 0, 0, 0.85)';
const FRAME_COLOR = '#808080';
const TICK_FONT = { family: "'Liberation Sans', Arial, sans-serif", size: 13 };
const K_FONT = { family: "'Liberation Serif', 'Times New Roman', serif", style: 'italic', size: 20 };
const ZERO_STYLE = {
  thin:  { color: 'rgba(40, 40, 255, 0.95)', width: 1,   dash: [14, 3] },
  mid:   { color: 'rgba(90, 90, 255, 0.85)', width: 1.6, dash: [14, 3] },
  thick: { color: 'rgba(120, 120, 255, 0.8)', width: 2.4, dash: [14, 3] }
};

// box frame with inward tick marks
const framePlugin = {
  id: 'frame',
  afterDatasetsDraw(chart, args, opts) {
    const { ctx, chartArea: a, scales } = chart;
    const x = scales.x, y = scales.y;
    ctx.save();
    ctx.strokeStyle = FRAME_COLOR;
    ctx.lineWidth = 1.2;
    ctx.strokeRect(a.left, a.top, a.right - a.left, a.bottom - a.top);
    ctx.lineWidth = 1;
    ctx.beginPath();
    const L = 4;
    y.ticks.forEach(t => {
      const py = Math.round(y.getPixelForValue(t.value)) + 0.5;
      ctx.moveTo(a.left, py); ctx.lineTo(a.left + L, py);
      ctx.moveTo(a.right, py); ctx.lineTo(a.right - L, py);
    });
    (opts.xMarks || []).forEach(v => {
      const px = Math.round(x.getPixelForValue(v)) + 0.5;
      ctx.moveTo(px, a.top); ctx.lineTo(px, a.top + L);
      ctx.moveTo(px, a.bottom); ctx.lineTo(px, a.bottom - L);
    });
    ctx.stroke();
    ctx.restore();
  }
};

function makeCanvas(left, top, w, h) {
  const c = document.createElement('canvas');
  c.width = w; c.height = h;
  c.style.left = left + 'px'; c.style.top = top + 'px';
  c.style.width = w + 'px'; c.style.height = h + 'px';
  document.body.appendChild(c);
  return c;
}

function zeroLine(kind) {
  const s = ZERO_STYLE[kind];
  return {
    data: [{ x: 0, y: 0 }, { x: 1, y: 0 }],
    borderColor: s.color, borderWidth: s.width, borderDash: s.dash,
    pointRadius: 0, fill: false, order: 0
  };
}

const TOP_PAD = 6, BOTTOM_H = 30, Y_AXIS_W = 45, RIGHT_PAD = 14;

function drawBandPanel(p) {
  const [L, R, T, B] = p.box;
  const cv = makeCanvas(L - Y_AXIS_W, T - TOP_PAD, R - L + Y_AXIS_W + RIGHT_PAD, B - T + TOP_PAD + BOTTOM_H);
  const datasets = p.bands.map(b => ({
    data: KPATH.map((k, i) => ({ x: k, y: b[i] })),
    borderColor: BAND_COLOR, borderWidth: 1, pointRadius: 0,
    cubicInterpolationMode: 'monotone', fill: false, order: 1
  }));
  datasets.push(zeroLine(p.zero));
  new Chart(cv, {
    type: 'line',
    data: { datasets },
    options: {
      responsive: false, animation: false, events: [],
      layout: { padding: { left: 0, right: RIGHT_PAD, top: TOP_PAD, bottom: 0 } },
      plugins: { legend: { display: false }, tooltip: { enabled: false },
                 frame: { xMarks: [KTICK_POS[1], KTICK_POS[2]] } },
      scales: {
        x: {
          type: 'linear', min: 0, max: 1,
          grid: { display: false }, border: { display: false },
          afterBuildTicks: s => { s.ticks = KTICK_POS.map(v => ({ value: v })); },
          afterFit: s => { s.height = BOTTOM_H; s.paddingLeft = 0; s.paddingRight = 0; },
          ticks: { autoSkip: false, maxRotation: 0, padding: -3, color: '#000', font: K_FONT,
                   callback: v => KTICK_TXT[KTICK_POS.indexOf(v)] }
        },
        y: {
          type: 'linear', min: p.yMin, max: p.yMax,
          grid: { display: false }, border: { display: false },
          afterBuildTicks: s => { s.ticks = p.yTicks.map(v => ({ value: v })); },
          afterFit: s => { s.width = Y_AXIS_W; s.paddingTop = 0; s.paddingBottom = 0; },
          ticks: { padding: 6, color: '#262626', font: TICK_FONT, callback: v => String(v) }
        }
      }
    },
    plugins: [framePlugin]
  });
}

function drawDosPanel(p) {
  const [, , T, B] = p.box;
  const [dl, dr] = p.dos;
  const PAD = 6;
  const cv = makeCanvas(dl - PAD, T - TOP_PAD, dr - dl + 2 * PAD, B - T + TOP_PAD + BOTTOM_H);
  new Chart(cv, {
    type: 'line',
    data: {
      datasets: [
        { data: p.dosF.map((f, i) => ({ x: p.dosV[i], y: f })),
          borderColor: BAND_COLOR, borderWidth: 1, pointRadius: 0, tension: 0, fill: false, order: 1 },
        zeroLine(p.zero)
      ]
    },
    options: {
      responsive: false, animation: false, events: [],
      layout: { padding: { left: PAD, right: PAD, top: TOP_PAD, bottom: 0 } },
      plugins: { legend: { display: false }, tooltip: { enabled: false },
                 frame: { xMarks: [DOS_MARK] } },
      scales: {
        x: {
          type: 'linear', min: 0, max: 1,
          grid: { display: false }, border: { display: false },
          afterBuildTicks: s => { s.ticks = [{ value: DOS_LABEL_POS }]; },
          afterFit: s => { s.height = BOTTOM_H; s.paddingLeft = 0; s.paddingRight = 0; },
          ticks: { autoSkip: false, maxRotation: 0, padding: 0, color: '#111',
                   font: { family: "'Liberation Sans', Arial, sans-serif", size: 14 },
                   callback: () => 'DOS' }
        },
        y: {
          type: 'linear', min: p.yMin, max: p.yMax,
          grid: { display: false }, border: { display: false },
          afterBuildTicks: s => { s.ticks = p.yTicks.map(v => ({ value: v })); },
          afterFit: s => { s.width = 0; s.paddingTop = 0; s.paddingBottom = 0; },
          ticks: { display: false }
        }
      }
    },
    plugins: [framePlugin]
  });
}

PANELS.forEach(p => {
  drawBandPanel(p);
  drawDosPanel(p);
  const t = document.createElement('div');
  t.className = 'ptitle';
  t.style.left = p.tx + 'px';
  t.style.top = p.ty + 'px';
  t.textContent = p.name;
  document.body.appendChild(t);
});
</script>
</body>
</html>
